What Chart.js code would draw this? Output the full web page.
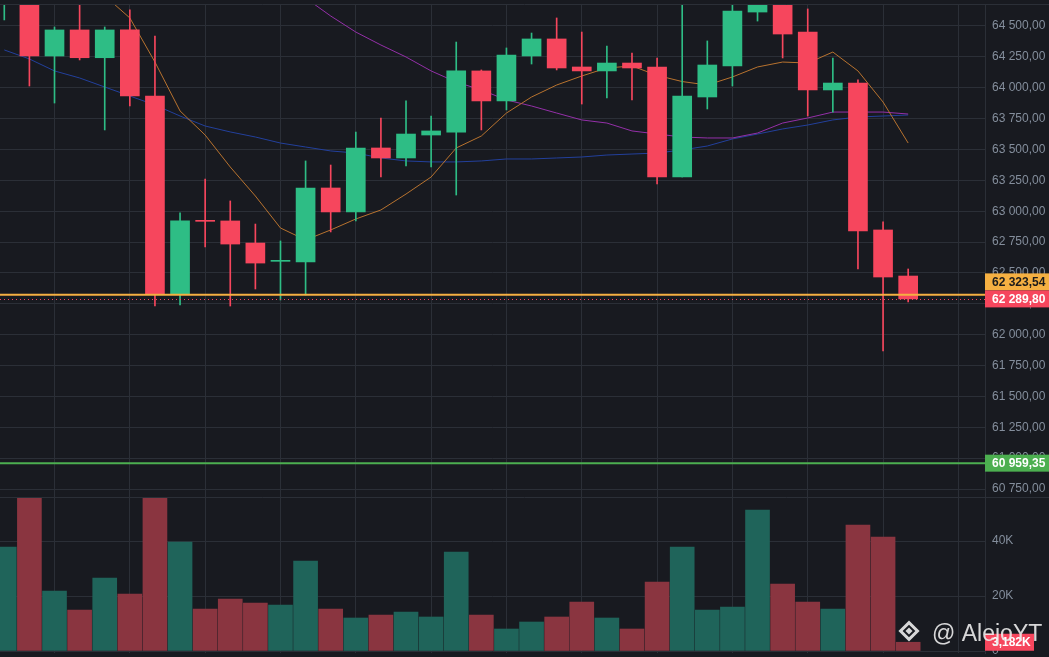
<!DOCTYPE html>
<html>
<head>
<meta charset="utf-8">
<style>
  html, body { margin: 0; padding: 0; background: #181a20; overflow: hidden; }
  canvas { display: block; }
</style>
</head>
<body>
<canvas id="btcChart" width="1049" height="657"></canvas>
<script src="https://cdn.jsdelivr.net/npm/chart.js@4.4.1/dist/chart.umd.min.js"></script>
<script>
/* Candles (oldest -> newest) */
const opens  = [64690, 64800, 64257, 64468, 64243, 64468, 63933, 62329, 62925, 62921, 62742, 62594, 62589, 63188, 62994, 63512, 63431, 63617, 63641, 64136, 63893, 64257, 64395, 64168, 64136, 64200, 64168, 63277, 63925, 64176, 64613, 64740, 64451, 63982, 64038, 62848, 62475];
const highs  = [64850, 64860, 64492, 64700, 64492, 64630, 64419, 62986, 63261, 63083, 62896, 62759, 63407, 63374, 63641, 63755, 63893, 63771, 64370, 64144, 64322, 64443, 64565, 64451, 64338, 64281, 64241, 64720, 64379, 64720, 64820, 64790, 64638, 64241, 64063, 62913, 62532];
const lows   = [64549, 64014, 63876, 64225, 63658, 63852, 62232, 62240, 62710, 62232, 62370, 62281, 62321, 62832, 62921, 63277, 63366, 63358, 63131, 63658, 63820, 64192, 64144, 63868, 63917, 63901, 63220, 63277, 63828, 64014, 64540, 64241, 63771, 63803, 62532, 61868, 62265];
const closes = [64800, 64257, 64468, 64243, 64468, 63933, 62329, 62921, 62918, 62734, 62580, 62598, 63188, 62994, 63512, 63431, 63625, 63650, 64136, 63893, 64265, 64395, 64160, 64136, 64200, 64160, 63277, 63933, 64184, 64621, 64740, 64435, 63982, 64038, 62840, 62467, 62289.80];
const volumes = [37818, 55600, 21818, 14909, 26545, 20727, 55700, 39636, 15273, 18909, 17455, 16727, 32727, 15273, 12000, 13091, 14182, 12364, 36000, 13091, 8000, 10545, 12364, 17818, 12000, 8000, 25091, 37818, 14909, 16000, 51273, 24364, 17818, 15273, 45818, 41455, 3182];

/* Moving averages */
const maFast = [null, null, null, 64900, 64745, 64565, 64208, 63812, 63617, 63358, 63123, 62864, 62767, 62848, 62937, 63010, 63139, 63277, 63512, 63609, 63795, 63925, 64022, 64095, 64160, 64176, 64100, 64050, 64022, 64087, 64168, 64208, 64200, 64289, 64136, 63884, 63552];
const maMid  = [null, null, null, null, null, null, null, null, null, null, null, 64850, 64727, 64581, 64451, 64346, 64249, 64136, 64046, 63982, 63901, 63852, 63795, 63739, 63714, 63650, 63625, 63601, 63593, 63593, 63633, 63714, 63755, 63803, 63803, 63803, 63787];
const maSlow = [64306, 64233, 64136, 64079, 64006, 63933, 63860, 63771, 63690, 63642, 63601, 63552, 63520, 63488, 63471, 63431, 63407, 63399, 63399, 63407, 63423, 63423, 63431, 63439, 63455, 63463, 63471, 63496, 63528, 63585, 63625, 63666, 63698, 63739, 63763, 63771, 63779];

/* Axis ticks */
const priceTicks = [60750, 61000, 61250, 61500, 61750, 62000, 62250, 62500, 62750, 63000, 63250, 63500, 63750, 64000, 64250, 64500];
const volumeTicks = [0, 20000, 40000];

/* Price markers on the right scale */
const markPrice = 62323.54;
const lastPrice = closes[closes.length - 1];
const supportLevel = 60959.35;

const upColor = '#2ebd85';
const downColor = '#f6465d';
const gridColor = '#2b2f37';
const textColor = '#848e9c';

const candleColor = closes.map((c, i) => c >= opens[i] ? upColor : downColor);
const volColor = closes.map((c, i) => c >= opens[i] ? '#1f645a' : '#8a3540');

// "64500" -> "64 500,00"
function fmtPrice(v) {
    const parts = v.toFixed(2).split('.');
    return parts[0].replace(/\B(?=(\d{3})+(?!\d))/g, ' ') + ',' + parts[1];
}

function fmtVolume(v) {
    if (v === 0) return '0';
    return (v / 1000) + 'K';
}

function drawTag(ctx, x, yc, w, text, bg, fg) {
    ctx.fillStyle = bg;
    ctx.fillRect(x, yc - 8.5, w, 17);
    ctx.fillStyle = fg;
    ctx.font = 'bold 12px "Liberation Sans", Arial, sans-serif';
    ctx.textAlign = 'left';
    ctx.textBaseline = 'middle';
    ctx.fillText(text, x + 7, yc + 0.5);
}

// fixed axis width, no extra label padding at the pane edges
function fitAxis(s) {
    s.width = 64;
    s.paddingTop = 0;
    s.paddingBottom = 0;
}

/* Lines, separators, tags and watermark */
const overlayPlugin = {
    id: 'overlay',
    afterDatasetsDraw(chart) {
        const { ctx, chartArea } = chart;
        const price = chart.scales.price;
        ctx.save();
        ctx.strokeStyle = gridColor;
        ctx.lineWidth = 1;
        ctx.beginPath();
        ctx.moveTo(0, chartArea.top - 0.5);
        ctx.lineTo(chart.width, chartArea.top - 0.5);
        ctx.moveTo(0, Math.round(price.bottom) + 0.5);
        ctx.lineTo(chart.width, Math.round(price.bottom) + 0.5);
        ctx.stroke();

        // mark price line
        let y = price.getPixelForValue(markPrice);
        ctx.strokeStyle = '#f5b042';
        ctx.lineWidth = 2;
        ctx.beginPath();
        ctx.moveTo(chartArea.left, y);
        ctx.lineTo(chartArea.right, y);
        ctx.stroke();

        // last price dotted line
        y = Math.round(price.getPixelForValue(lastPrice)) + 0.5;
        ctx.strokeStyle = downColor;
        ctx.lineWidth = 1;
        ctx.setLineDash([1, 3]);
        ctx.beginPath();
        ctx.moveTo(chartArea.left, y);
        ctx.lineTo(chartArea.right, y);
        ctx.stroke();
        ctx.setLineDash([]);

        // support level
        y = price.getPixelForValue(supportLevel);
        ctx.strokeStyle = '#4caf50';
        ctx.lineWidth = 2;
        ctx.beginPath();
        ctx.moveTo(chartArea.left, y);
        ctx.lineTo(chartArea.right, y);
        ctx.stroke();
        ctx.restore();
    },
    afterDraw(chart) {
        const { ctx } = chart;
        const price = chart.scales.price;
        const volume = chart.scales.volume;
        const x = price.left;
        const w = chart.width - price.left;
        ctx.save();
        const lastY = price.getPixelForValue(lastPrice);
        drawTag(ctx, x, lastY - 17, w, fmtPrice(markPrice), '#f5b042', '#1b1b1b');
        drawTag(ctx, x, lastY, w, fmtPrice(lastPrice), downColor, '#ffffff');
        drawTag(ctx, x, price.getPixelForValue(supportLevel), w, fmtPrice(supportLevel), '#4caf50', '#ffffff');
        const lastVol = volumes[volumes.length - 1];
        drawTag(ctx, x, volume.getPixelForValue(lastVol), 49,
            (lastVol / 1000).toFixed(3).replace('.', ',') + 'K', downColor, '#ffffff');

        // watermark
        ctx.fillStyle = 'rgba(236, 236, 236, 0.9)';
        ctx.strokeStyle = 'rgba(236, 236, 236, 0.9)';
        ctx.translate(909, 631);
        ctx.rotate(Math.PI / 4);
        ctx.lineWidth = 3;
        ctx.strokeRect(-6, -6, 12, 12);
        ctx.fillRect(-2.5, -2.5, 5, 5);
        ctx.setTransform(1, 0, 0, 1, 0, 0);
        ctx.font = '23px "Liberation Sans", Arial, sans-serif';
        ctx.textAlign = 'left';
        ctx.textBaseline = 'alphabetic';
        ctx.fillText('@ AlejoYT', 932, 641);
        ctx.restore();
    }
};

Chart.defaults.font.family = '"Liberation Sans", Arial, sans-serif';
Chart.defaults.font.size = 12;
Chart.defaults.color = textColor;

const ctx = document.getElementById('btcChart');
new Chart(ctx, {
    type: 'bar',
    data: {
        labels: closes.map((_, i) => i),
        datasets: [
            { type: 'line', label: 'MA fast', data: maFast, borderColor: '#b8732f', borderWidth: 1, pointRadius: 0, yAxisID: 'price', order: 5 },
            { type: 'line', label: 'MA mid', data: maMid, borderColor: '#9430a8', borderWidth: 1, pointRadius: 0, yAxisID: 'price', order: 5 },
            { type: 'line', label: 'MA slow', data: maSlow, borderColor: '#23409c', borderWidth: 1, pointRadius: 0, yAxisID: 'price', order: 5 },
            { label: 'Volume', data: volumes, backgroundColor: volColor, barThickness: 24, grouped: false, yAxisID: 'volume', order: 6 },
            { label: 'Wick', data: lows.map((l, i) => [l, highs[i]]), backgroundColor: candleColor, barThickness: 1, grouped: false, yAxisID: 'price', order: 2 },
            { label: 'Body', data: opens.map((o, i) => [o, closes[i]]), backgroundColor: candleColor, barThickness: 19, minBarLength: 1, grouped: false, yAxisID: 'price', order: 1 }
        ]
    },
    options: {
        responsive: false,
        animation: false,
        layout: { padding: { top: 5, bottom: 4, left: 0, right: 0 } },
        plugins: {
            legend: { display: false },
            tooltip: { enabled: false }
        },
        scales: {
            x: {
                type: 'linear',
                min: -0.171,
                max: 39.06,
                offset: false,
                grid: { color: gridColor, offset: false, drawTicks: false },
                border: { display: false },
                ticks: { display: false },
                afterBuildTicks: (axis) => {
                    const t = [];
                    for (let v = 2; v <= 39; v += 3) t.push({ value: v });
                    axis.ticks = t;
                }
            },
            price: {
                type: 'linear',
                position: 'right',
                stack: 'panes',
                stackWeight: 492,
                min: 60685.3,
                max: 64670,
                grid: { color: gridColor, drawTicks: false },
                border: { display: true, color: gridColor },
                ticks: { padding: 7, autoSkip: false, color: textColor, callback: (v) => fmtPrice(v) },
                afterBuildTicks: (axis) => { axis.ticks = priceTicks.map(v => ({ value: v })); },
                afterFit: fitAxis
            },
            volume: {
                type: 'linear',
                position: 'right',
                stack: 'panes',
                stackWeight: 156,
                min: -727,
                max: 56000,
                grid: { color: gridColor, drawTicks: false },
                border: { display: true, color: gridColor },
                ticks: { padding: 7, autoSkip: false, color: textColor, callback: (v) => fmtVolume(v) },
                afterBuildTicks: (axis) => { axis.ticks = volumeTicks.map(v => ({ value: v })); },
                afterFit: fitAxis
            }
        }
    },
    plugins: [overlayPlugin]
});
</script>
</body>
</html>
